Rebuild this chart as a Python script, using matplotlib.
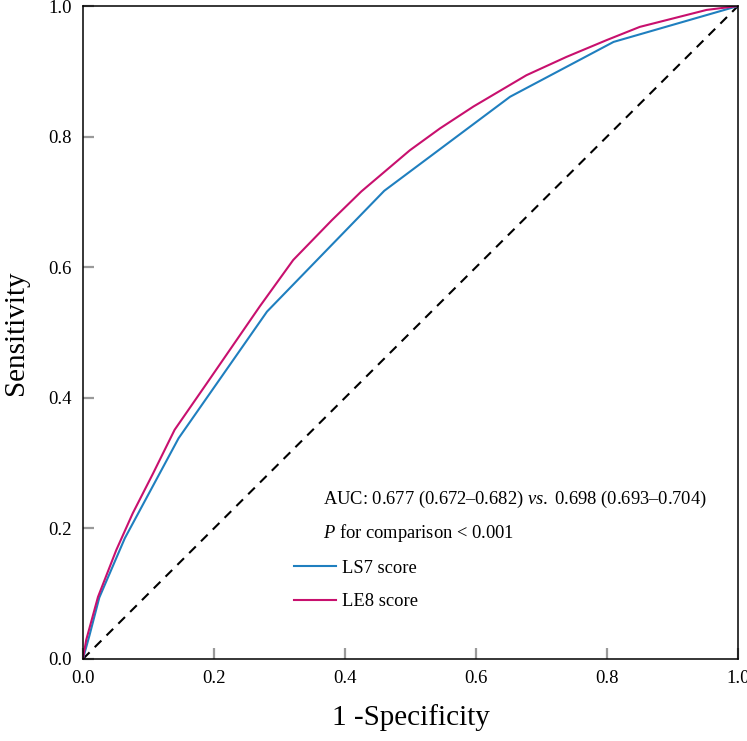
import matplotlib
matplotlib.use("Agg")
import matplotlib.pyplot as plt

# ROC curves (1 - specificity, sensitivity)
ls7_fpr = [0.0, 0.01, 0.025, 0.064, 0.146, 0.281, 0.46, 0.652, 0.81, 1.0]
ls7_tpr = [0.0, 0.036, 0.094, 0.185, 0.338, 0.532, 0.717, 0.861, 0.945, 1.0]

le8_fpr = [0.0, 0.005, 0.023, 0.051, 0.076, 0.107, 0.14, 0.189, 0.27, 0.321,
           0.38, 0.425, 0.499, 0.545, 0.596, 0.677, 0.738, 0.8, 0.85, 0.901,
           0.952, 1.0]
le8_tpr = [0.0, 0.029, 0.095, 0.167, 0.223, 0.284, 0.351, 0.422, 0.54, 0.611,
           0.672, 0.716, 0.779, 0.8125, 0.846, 0.894, 0.922, 0.948, 0.968, 0.981,
           0.994, 1.0]

ref_line = [0.0, 1.0]
ticks = [0.0, 0.2, 0.4, 0.6, 0.8, 1.0]
tick_labels = ["0.0", "0.2", "0.4", "0.6", "0.8", "1.0"]

plt.rcParams['font.family'] = ['Liberation Serif', 'DejaVu Serif']
plt.rcParams['mathtext.fontset'] = 'custom'
plt.rcParams['mathtext.it'] = 'Liberation Serif:italic'
plt.rcParams['mathtext.rm'] = 'Liberation Serif'

fig = plt.figure(figsize=(7.47, 7.41), dpi=100)
ax = fig.add_axes([0.111, 0.1107, 0.877, 0.8812])

ax.plot(ref_line, ref_line, color='black', lw=1.5, linestyle=(0, (4.5, 3.5)))
ax.plot(ls7_fpr, ls7_tpr, color='#1f7fbf', lw=1.5, label='LS7 score')
ax.plot(le8_fpr, le8_tpr, color='#c8106e', lw=1.5, label='LE8 score')

ax.set_xlim(0, 1)
ax.set_ylim(0, 1)
ax.set_xticks(ticks)
ax.set_xticklabels(tick_labels)
ax.set_yticks(ticks)
ax.set_yticklabels(tick_labels)
ax.tick_params(direction='in', length=8, width=1.6, color='#9a9a9a',
               labelsize=13.5, pad=8)
for s in ax.spines.values():
    s.set_linewidth(1.1)

ax.set_xlabel('1 -Specificity', fontsize=21, labelpad=12)
ax.set_ylabel('Sensitivity', fontsize=21, labelpad=14)

ax.text(0.366, 0.2374, r'AUC: 0.677 (0.672–0.682) $vs.$ 0.698 (0.693–0.704)',
        transform=ax.transAxes, fontsize=13.3, va='baseline')
ax.text(0.366, 0.1853, r'$P$ for comparison < 0.001',
        transform=ax.transAxes, fontsize=13.3, va='baseline')

ax.legend(loc='center left', bbox_to_anchor=(0.322, 0.1133), frameon=False,
          fontsize=13.3, handlelength=2.27, handletextpad=0.35,
          labelspacing=0.88, borderaxespad=0, borderpad=0)

plt.savefig('out.png', dpi=100)
